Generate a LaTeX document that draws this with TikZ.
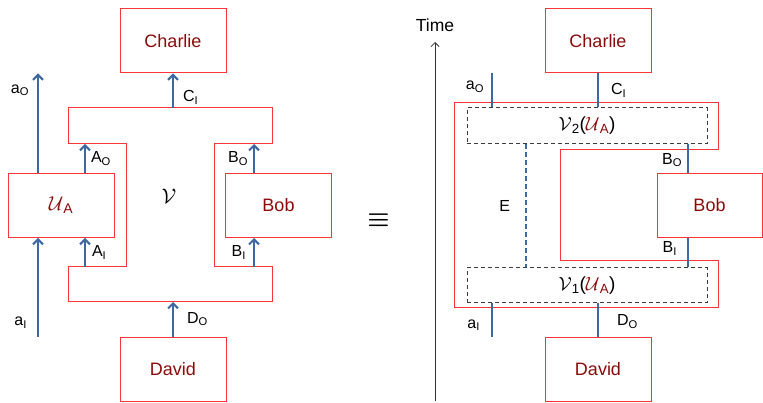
\RequirePackage{fix-cm}
\documentclass[tikz,border=0pt]{standalone}
\usepackage{fontspec}
\setmainfont{Liberation Sans}
\usepackage{amsmath}
\usepackage{xcolor}
\usetikzlibrary{arrows.meta, positioning}
\definecolor{boxred}{RGB}{250,55,55}
\definecolor{namered}{RGB}{140,10,10}
\definecolor{wireblue}{RGB}{62,104,162}
\definecolor{combgray}{RGB}{60,60,60}

\begin{document}
\begin{tikzpicture}[
    x=1pt, y=-1pt,
    party/.style={rectangle, draw=boxred, line width=1pt, minimum width=106pt, minimum height=64pt, inner sep=0pt, text=namered, font=\fontsize{18}{20}\selectfont},
    comb/.style={rectangle, draw=combgray, dash pattern=on 4pt off 3pt, line width=1pt, minimum width=240pt, minimum height=36pt, inner sep=0pt, font=\fontsize{19}{21}\selectfont},
    frame/.style={draw=boxred, line width=1pt},
    wire/.style={wireblue, line width=2pt},
    arrow/.style={wire, -{Straight Barb[length=5pt, width=10pt]}},
    lbl/.style={text=black, font=\fontsize{16}{18}\selectfont, inner sep=1pt}
]
\useasboundingbox (0,0) rectangle (763,403);

% Left: network of channels
\node[party] (charlieL) at (173,41) {Charlie};
\node[party, font=\fontsize{20}{22}\selectfont] (ua) at (61,205.5) {$\mathcal{U}$\textsubscript{A}};
\node[party] (bobL) at (278.5,205.5) {Bob};
\node[party] (davidL) at (173,369) {David};

\draw[frame] (68,108) -- (272,108) -- (272,144) -- (214,144) -- (214,267) -- (272,267)
    -- (272,302) -- (68,302) -- (68,267) -- (126,267) -- (126,144) -- (68,144) -- cycle;
\node[font=\fontsize{21}{23}\selectfont] (vlbl) at (169,196) {$\mathcal{V}$};

\coordinate (vtop) at (0,108);
\coordinate (vmt) at (0,144);
\coordinate (vmb) at (0,267);
\coordinate (vbot) at (0,302);
\coordinate (ax) at (38,0);
\coordinate (Ax) at (85,0);
\coordinate (Bx) at (254,0);

\draw[arrow] (ax |- ua.north) -- node[lbl, pos=0.83, left=7pt] {a\textsubscript{O}} (ax |- charlieL.south);
\draw[arrow] (ax |- davidL.north) -- node[lbl, pos=0.14, left=9pt] {a\textsubscript{I}} (ax |- ua.south);
\draw[arrow] (Ax |- ua.north) -- node[lbl, right=4pt] {A\textsubscript{O}} (Ax |- vmt);
\draw[arrow] (Ax |- vmb) -- node[lbl, right=5pt] {A\textsubscript{I}} (Ax |- ua.south);
\draw[arrow] (Bx |- bobL.north) -- node[lbl, left=4pt] {B\textsubscript{O}} (Bx |- vmt);
\draw[arrow] (Bx |- vmb) -- node[lbl, left=6pt] {B\textsubscript{I}} (Bx |- bobL.south);
\draw[arrow] (charlieL.south |- vtop) -- node[lbl, pos=0.31, right=8pt] {C\textsubscript{I}} (charlieL.south);
\draw[arrow] (davidL.north) -- node[lbl, right=12pt] {D\textsubscript{O}} (davidL.north |- vbot);

% Equivalence
\node[font=\fontsize{25}{27}\selectfont] (equiv) at (378.5,220) {$\boldsymbol{\equiv}$};

% Right: sequence in time
\coordinate (t0) at (435,401);
\coordinate (t1) at (435,42);
\draw[black!80, line width=0.8pt, -{Straight Barb[length=4pt, width=8pt]}] (t0) -- (t1)
    node[lbl, above=9pt, font=\fontsize{17.5}{19}\selectfont] (time) {Time};

\node[party] (charlieR) at (598,41) {Charlie};
\node[party, minimum width=105pt] (bobR) at (709.5,205.5) {Bob};
\node[party] (davidR) at (598,369) {David};

\draw[frame] (454,103) -- (718,103) -- (718,150) -- (560,150) -- (560,261) -- (718,261)
    -- (718,308) -- (454,308) -- cycle;

\node[comb] (v2) at (587,126) {$\mathcal{V}$\textsubscript{2}(\textcolor{namered}{$\mathcal{U}$\textsubscript{A}})};
\node[comb, minimum height=35pt] (v1) at (587,285.5) {$\mathcal{V}$\textsubscript{1}(\textcolor{namered}{$\mathcal{U}$\textsubscript{A}})};

\coordinate (aOr) at (492,73);
\coordinate (aIr) at (492,337);
\coordinate (ex) at (526,0);
\coordinate (bx) at (688,0);

\draw[wire] (aOr) -- node[lbl, pos=0.4, left=6pt] {a\textsubscript{O}} (aOr |- v2.north);
\draw[wire] (charlieR.south) -- node[lbl, pos=0.5, right=11pt] {C\textsubscript{I}} (charlieR.south |- v2.north);
\draw[wire] (bx |- v2.south) -- node[lbl, pos=0.55, left=4pt] {B\textsubscript{O}} (bx |- bobR.north);
\draw[wire] (bx |- bobR.south) -- node[lbl, pos=0.35, left=9pt] {B\textsubscript{I}} (bx |- v1.north);
\draw[wire, dash pattern=on 5pt off 3pt] (ex |- v2.south) -- node[lbl, left=14pt] {E} (ex |- v1.north);
\draw[wire] (aIr |- v1.south) -- node[lbl, pos=0.65, left=10pt] {a\textsubscript{I}} (aIr);
\draw[wire] (davidR.north |- v1.south) -- node[lbl, pos=0.55, right=17pt] {D\textsubscript{O}} (davidR.north);

\end{tikzpicture}
\end{document}
